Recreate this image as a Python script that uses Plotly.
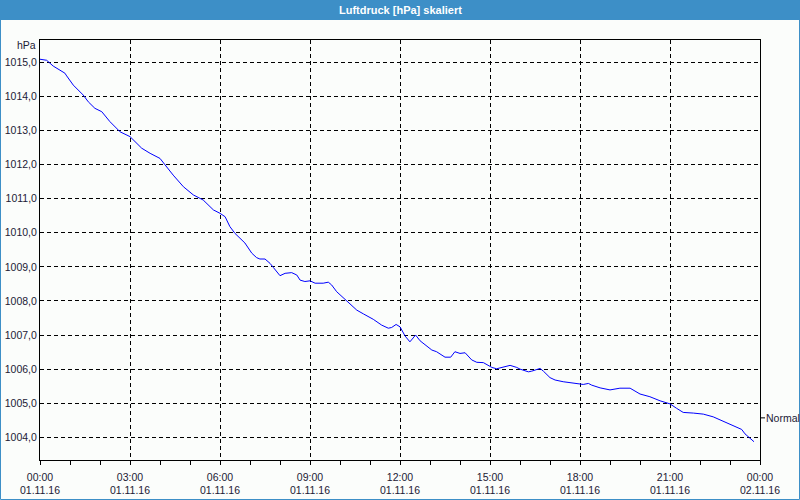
import pandas as pd
import plotly.graph_objects as go

# Data: hours after 01.11.16 00:00 and air pressure in hPa
hours = [0.00, 0.22, 0.44, 0.83, 0.89, 1.11, 1.44, 1.61, 1.83, 2.06, 2.33, 2.67, 3.00,
         3.39, 3.67, 4.00, 4.17, 4.44, 4.78, 5.11, 5.44, 5.78, 6.00, 6.17, 6.33, 6.50,
         6.83, 7.06, 7.22, 7.33, 7.50, 7.67, 7.78, 8.00, 8.17, 8.39, 8.56, 8.67, 8.83,
         9.00, 9.17, 9.44, 9.61, 9.72, 9.89, 10.22, 10.56, 10.78, 11.11, 11.39, 11.61,
         11.72, 11.87, 12.00, 12.17, 12.33, 12.52, 12.67, 12.83, 13.06, 13.22, 13.50,
         13.69, 13.83, 14.00, 14.17, 14.39, 14.56, 14.78, 15.06, 15.22, 15.56, 15.67,
         15.89, 16.00, 16.28, 16.39, 16.67, 16.78, 17.00, 17.17, 17.44, 17.78, 18.00,
         18.11, 18.28, 18.39, 18.67, 18.89, 19.00, 19.33, 19.67, 20.00, 20.33, 20.67,
         21.00, 21.22, 21.44, 21.78, 22.11, 22.44, 22.78, 23.11, 23.39, 23.50, 23.67, 23.80]
pressure = [1015.09, 1015.06, 1014.89, 1014.68, 1014.60, 1014.33, 1014.04, 1013.84, 1013.65,
            1013.55, 1013.26, 1012.96, 1012.82, 1012.48, 1012.33, 1012.18, 1011.99, 1011.69,
            1011.35, 1011.11, 1010.96, 1010.67, 1010.57, 1010.47, 1010.18, 1009.98, 1009.70,
            1009.40, 1009.27, 1009.23, 1009.23, 1009.10, 1008.98, 1008.74, 1008.81, 1008.83,
            1008.76, 1008.61, 1008.57, 1008.59, 1008.52, 1008.52, 1008.55, 1008.47, 1008.27,
            1008.01, 1007.73, 1007.62, 1007.46, 1007.29, 1007.20, 1007.22, 1007.31, 1007.24,
            1006.97, 1006.80, 1007.00, 1006.83, 1006.71, 1006.56, 1006.51, 1006.35, 1006.35,
            1006.51, 1006.46, 1006.48, 1006.27, 1006.20, 1006.19, 1006.05, 1006.01, 1006.09,
            1006.11, 1006.05, 1006.00, 1005.92, 1005.94, 1006.02, 1005.94, 1005.75, 1005.68,
            1005.63, 1005.58, 1005.55, 1005.55, 1005.58, 1005.53, 1005.45, 1005.42, 1005.39,
            1005.44, 1005.44, 1005.27, 1005.19, 1005.07, 1004.98, 1004.85, 1004.73, 1004.71,
            1004.68, 1004.60, 1004.46, 1004.34, 1004.23, 1004.10, 1003.97, 1003.87]
y_ticks = [1004, 1005, 1006, 1007, 1008, 1009, 1010, 1011, 1012, 1013, 1014, 1015]
normal_value = 1004.57
title_text = "Luftdruck [hPa] skaliert"
unit_text = "hPa"
normal_text = "Normal"

start = pd.Timestamp("2016-11-01 00:00")
end = pd.Timestamp("2016-11-02 00:00")
times = [start + pd.Timedelta(hours=h) for h in hours]

FONT = "Liberation Sans"
FS = 10.5
TXT = "#1c2035"
BG = "#fbfdfb"
BLUE = "#3d8fc7"

fig = go.Figure()
fig.add_trace(go.Scatter(x=times, y=pressure, mode="lines",
                         line=dict(color="#0000ff", width=1), showlegend=False,
                         hoverinfo="skip"))

W, H = 800, 500
L, R, T, B = 40, 40, 40, 40
pw, ph = W - L - R, H - T - B


def px(p):
    return (p - L) / pw


def py(p):
    return (H - B - p) / ph


fig.update_layout(
    width=W, height=H,
    margin=dict(l=L, r=R, t=T, b=B, autoexpand=False),
    paper_bgcolor=BG, plot_bgcolor=BG,
    separators=",.",
    font=dict(family=FONT, size=FS, color=TXT),
    xaxis=dict(
        type="date", range=[start, end],
        dtick=3 * 3600 * 1000, tick0=start,
        tickformat="%H:%M<br>%d.%m.%y",
        ticks="outside", ticklen=4, tickcolor="black", tickwidth=1,
        ticklabelstandoff=3,
        showgrid=True, gridcolor="black", gridwidth=1, griddash="4px,3px",
        minor=dict(dtick=3600 * 1000, ticks="outside", ticklen=4, tickcolor="black",
                   showgrid=False),
        showline=True, linecolor="black", linewidth=1, mirror=True,
        zeroline=False, fixedrange=True, automargin=False,
        tickfont=dict(family=FONT, size=FS, color=TXT),
    ),
    yaxis=dict(
        range=[1003.334, 1015.654],
        tickvals=y_ticks, tickformat=".1f",
        ticks="", showgrid=True, gridcolor="black", gridwidth=1, griddash="4px,3px",
        showline=True, linecolor="black", linewidth=1, mirror=True,
        zeroline=False, fixedrange=True, automargin=False,
        tickfont=dict(family=FONT, size=FS, color=TXT),
    ),
    shapes=[
        dict(type="rect", xref="paper", yref="paper",
             x0=px(0), x1=px(W), y0=py(20), y1=py(0),
             fillcolor=BLUE, line=dict(width=0), layer="above"),
        dict(type="rect", xref="paper", yref="paper",
             x0=px(0.5), x1=px(W - 0.5), y0=py(H - 0.5), y1=py(0.5),
             fillcolor="rgba(0,0,0,0)", line=dict(color=BLUE, width=1), layer="above"),
        dict(type="line", xref="paper", yref="y",
             x0=1, x1=px(765), y0=normal_value, y1=normal_value,
             line=dict(color="black", width=1)),
    ],
    annotations=[
        dict(text="<b>" + title_text + "</b>", xref="paper", yref="paper",
             x=0.5, y=py(10), xanchor="center", yanchor="middle", showarrow=False,
             font=dict(family=FONT, size=11, color="white")),
        dict(text=unit_text, xref="paper", yref="paper",
             x=px(38), y=py(45), xanchor="right", yanchor="middle", showarrow=False,
             font=dict(family=FONT, size=FS, color=TXT)),
        dict(text=normal_text, xref="paper", yref="y",
             x=px(764), y=normal_value, xanchor="left", yanchor="middle", showarrow=False,
             font=dict(family=FONT, size=FS, color=TXT)),
    ],
)

fig.write_html("out.html", config=dict(displayModeBar=False))
